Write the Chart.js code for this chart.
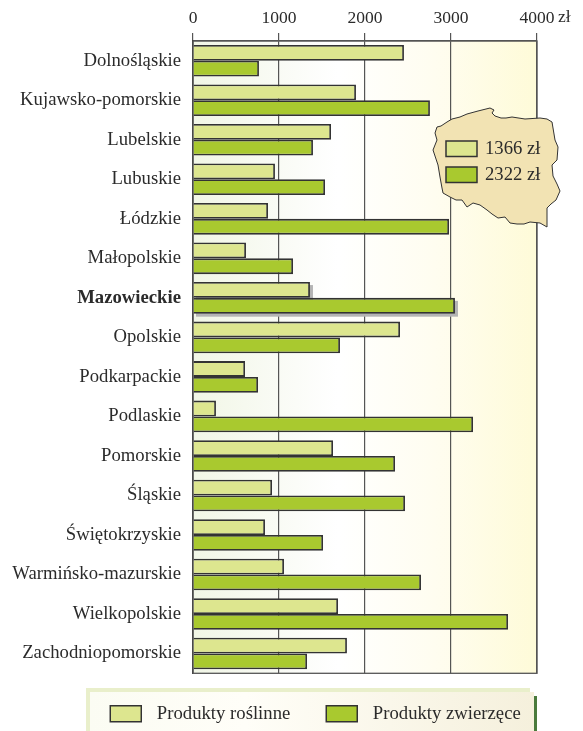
<!DOCTYPE html>
<html><head><meta charset="utf-8">
<style>html,body{margin:0;padding:0;background:#fff}canvas{display:block}</style>
<script src="https://cdn.jsdelivr.net/npm/chart.js@4"></script>
</head><body>
<canvas id="c" width="583" height="731"></canvas>
<script>
const categories = ["Dolnośląskie","Kujawsko-pomorskie","Lubelskie","Lubuskie","Łódzkie","Małopolskie","Mazowieckie","Opolskie","Podkarpackie","Podlaskie","Pomorskie","Śląskie","Świętokrzyskie","Warmińsko-mazurskie","Wielkopolskie","Zachodniopomorskie"];
const plantProducts = [2453,1895,1605,953,872,616,1360,2407,605,267,1628,919,837,1058,1686,1790];
const animalProducts = [767,2755,1395,1535,2977,1163,3046,1709,756,3256,2349,2465,1512,2651,3663,1326];
const xTicks = [0,1000,2000,3000,4000];
const plantLabel = "Produkty roślinne", animalLabel = "Produkty zwierzęce";
const nationalPlant = "1366 zł", nationalAnimal = "2322 zł";
const highlighted = "Mazowieckie";
const unit = "zł";
const LIGHT="#dde68f", DARK="#a9c92f", LINE="#333333", INK="#2b2b2b", FONT="'Liberation Serif', serif";
const polandOutline = [[437,127],[441,126],[447,122],[452,119],[460,117],[467,114],[478,111],[490,108],[494,110],[492,113],[495,116],[501,118],[506,118],[512,117],[525,119],[540,118],[547,119],[552,122],[553,128],[555,140],[558,147],[557,160],[552,165],[553,176],[557,184],[560,191],[556,200],[551,204],[547,208],[547,220],[547,227],[540,223],[530,222],[524,224],[517,224],[510,223],[505,217],[498,218],[492,214],[487,210],[480,205],[473,203],[467,207],[462,200],[456,200],[450,197],[443,193],[442,188],[440,177],[438,165],[433,150],[437,140],[435,133]];

const backdrop = {
  id:"backdrop",
  afterLayout(chart){
    chart.legend.left += 71;
    chart.legend.right += 23;
    chart.legend.top -= 5;
  },
  beforeDraw(chart){
    const {ctx,chartArea:a}=chart;
    ctx.save();
    ctx.fillStyle="#e9efcb"; ctx.fillRect(86,688,444,43);
    let g=ctx.createLinearGradient(90,0,534,0);
    g.addColorStop(0,"#fbfcf3"); g.addColorStop(.35,"#fffef8"); g.addColorStop(1,"#f5f0dc");
    ctx.fillStyle=g; ctx.fillRect(90,692,444,39);
    ctx.fillStyle="#4a7a3c"; ctx.fillRect(534,696,3,35);
    g=ctx.createLinearGradient(a.left,0,a.right,0);
    g.addColorStop(0,"#f1f6e6"); g.addColorStop(.3,"#fbfcf8"); g.addColorStop(.42,"#ffffff"); g.addColorStop(.7,"#fffdf0"); g.addColorStop(1,"#fefbd8");
    ctx.fillStyle=g; ctx.fillRect(a.left,a.top,a.right-a.left,a.bottom-a.top);
    ctx.restore();
  },
  beforeDatasetsDraw(chart){
    const {ctx,chartArea:a}=chart, i=categories.indexOf(highlighted);
    ctx.save();
    ctx.strokeStyle="#555"; ctx.lineWidth=1.3;
    ctx.strokeRect(a.left,a.top,a.right-a.left,a.bottom-a.top);
    ctx.fillStyle="#b4b4b4";
    [0,1].forEach(d=>{
      const b=chart.getDatasetMeta(d).data[i];
      const h=b.height;
      ctx.fillRect(a.left+3,b.y-h/2+3,b.x-a.left,h);
    });
    ctx.restore();
  },
  afterDraw(chart){
    const {ctx,scales:{x}}=chart;
    ctx.save();
    ctx.beginPath();
    polandOutline.forEach((p,i)=>i?ctx.lineTo(p[0],p[1]):ctx.moveTo(p[0],p[1]));
    ctx.closePath();
    ctx.fillStyle="#f2e3b3"; ctx.fill();
    ctx.strokeStyle="#333"; ctx.lineWidth=1; ctx.stroke();
    ctx.lineWidth=1.5; ctx.strokeStyle=LINE;
    ctx.fillStyle=LIGHT; ctx.fillRect(446,141,31,15.5); ctx.strokeRect(446,141,31,15.5);
    ctx.fillStyle=DARK; ctx.fillRect(446,167,31,15.5); ctx.strokeRect(446,167,31,15.5);
    ctx.fillStyle=INK; ctx.font="18.7px "+FONT; ctx.textBaseline="middle"; ctx.textAlign="left";
    ctx.fillText(nationalPlant,485,149);
    ctx.fillText(nationalAnimal,485,175);
    ctx.font="17.5px "+FONT;
    ctx.fillText(unit,x.getPixelForValue(4000)+21,17);
    ctx.restore();
  }
};

new Chart(document.getElementById("c"),{
  type:"bar",
  data:{labels:categories,datasets:[
    {label:plantLabel,data:plantProducts,backgroundColor:LIGHT,borderColor:LINE,borderWidth:1.8},
    {label:animalLabel,data:animalProducts,backgroundColor:DARK,borderColor:LINE,borderWidth:1.8}
  ]},
  options:{
    indexAxis:"y",responsive:false,animation:false,devicePixelRatio:1,
    layout:{padding:{left:0,right:46,top:4,bottom:-7}},
    datasets:{bar:{categoryPercentage:.8,barPercentage:1}},
    scales:{
      x:{position:"top",min:0,max:4000,
        afterBuildTicks(s){s.ticks=xTicks.map(v=>({value:v}));},
        grid:{color:"#555",lineWidth:1.2,tickLength:8,drawTicks:true},
        border:{color:"#555",width:1.3},
        ticks:{color:INK,font:{family:FONT,size:17.5},padding:4,maxRotation:0,autoSkip:false,callback:v=>String(v)}},
      y:{position:"left",
        afterFit(s){s.width=193;},
        grid:{display:false},border:{color:"#333",width:1.3},
        ticks:{autoSkip:false,padding:4,color:INK,
          font:c=>({family:FONT,size:18.7,weight:categories[c.index]===highlighted?"bold":"normal"})}}
    },
    plugins:{
      tooltip:{enabled:false},
      legend:{position:"bottom",
        labels:{boxWidth:31,boxHeight:16,padding:36,color:INK,font:{family:FONT,size:18.7},
          generateLabels(chart){
            return chart.data.datasets.map((d,i)=>({text:"\u2004"+d.label,fillStyle:d.backgroundColor,strokeStyle:d.borderColor,lineWidth:1.5,datasetIndex:i,fontColor:INK}));
          }}}
    }
  },
  plugins:[backdrop]
});
</script>
</body></html>
